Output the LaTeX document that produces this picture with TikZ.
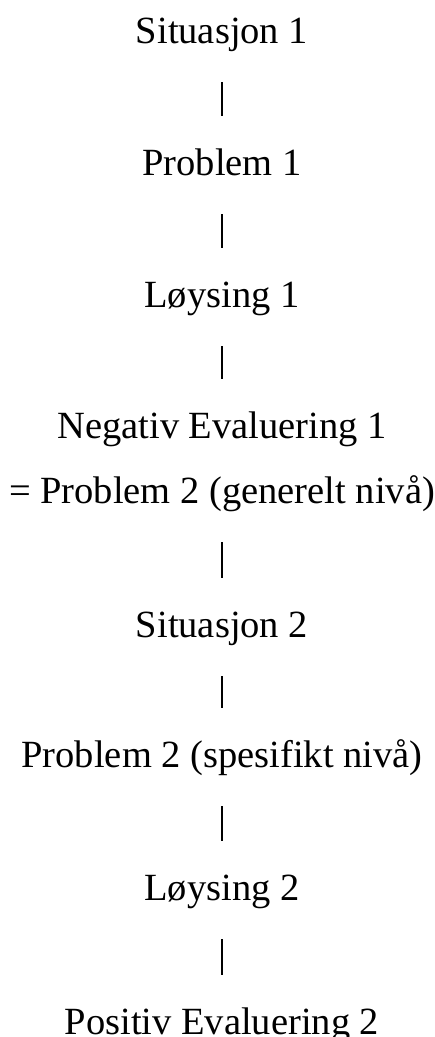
\documentclass[tikz,border=0pt]{standalone}
\usepackage{fontspec}
\setmainfont{Liberation Serif}
\begin{document}
\begin{tikzpicture}[x=1pt,y=1pt,
  stage/.style={anchor=base,inner sep=0pt,font=\fontsize{38.5}{46}\selectfont},
  link/.style={line width=1.1pt,black}]
\useasboundingbox (0,0) rectangle (435,-1037);
\node[stage] (s1) at (222,-43)   {Situasjon 1};
\node[stage] (p1) at (222,-175)  {Problem 1};
\node[stage] (l1) at (222,-307)  {Løysing 1};
\node[stage] (n1) at (222,-438)  {Negativ Evaluering 1};
\node[stage] (p2g) at (222,-503) {= Problem 2 (generelt nivå)};
\node[stage] (s2) at (222,-637)  {Situasjon 2};
\node[stage] (p2s) at (222,-767) {Problem 2 (spesifikt nivå)};
\node[stage] (l2) at (222,-900)  {Løysing 2};
\node[stage] (e2) at (222,-1034) {Positiv Evaluering 2};
\foreach \a/\b in {s1/p1,p1/l1,l1/n1,p2g/s2,s2/p2s,p2s/l2,l2/e2}
  \draw[link] ([yshift=-39pt]\a.base) -- ([yshift=59pt]\b.base);
\end{tikzpicture}
\end{document}
